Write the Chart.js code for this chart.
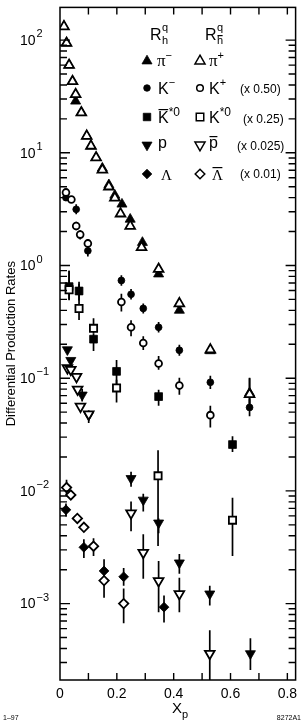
<!DOCTYPE html>
<html>
<head>
<meta charset="utf-8">
<script src="https://cdn.jsdelivr.net/npm/chart.js@4.4.1/dist/chart.umd.min.js"></script>
<style>
  html, body { margin: 0; padding: 0; background: #fff; }
  canvas { display: block; }
</style>
</head>
<body>
<canvas id="rates" width="303" height="723"></canvas>
<script>
/* Differential production rates vs x_p, quark (R_h^q) and antiquark (R_hbar^q) jets */

// pi- (solid) / pi+ (open)
const piMinusX = [0.014, 0.023, 0.032, 0.044, 0.055, 0.075, 0.094, 0.109, 0.127, 0.149, 0.172, 0.193, 0.218, 0.247, 0.290, 0.347, 0.420, 0.529, 0.667];
const piMinusY = [132, 94, 60, 43, 28.7, 22.7, 14.1, 11.5, 9.06, 7.3, 5.2, 4.2, 3.5, 2.57, 1.6, 0.84, 0.40, 0.175, 0.074];
const piMinusLo = [null, null, null, null, null, null, null, null, null, null, null, null, null, null, null, null, null, null, 0.055];
const piMinusHi = [null, null, null, null, null, null, null, null, null, null, null, null, null, null, null, null, null, null, 0.10];
const piPlusX = [0.014, 0.023, 0.032, 0.044, 0.055, 0.075, 0.094, 0.109, 0.127, 0.149, 0.172, 0.193, 0.213, 0.247, 0.287, 0.347, 0.420, 0.529, 0.667];
const piPlusY = [132, 94, 60, 43, 33, 22.7, 14.1, 11.5, 9.06, 7.06, 5.0, 3.98, 2.88, 2.24, 1.45, 0.93, 0.46, 0.179, 0.072];
const piPlusLo = [null, null, null, null, null, null, null, null, null, null, null, null, null, null, null, null, null, null, 0.0527];
const piPlusHi = [null, null, null, null, null, null, null, null, null, null, null, null, null, null, null, null, null, null, 0.101];

// K- (solid) / K+ (open, x 0.50)
const kMinusX = [0.021, 0.057, 0.098, 0.216, 0.250, 0.293, 0.347, 0.420, 0.529, 0.667];
const kMinusY = [4.0, 3.15, 1.35, 0.736, 0.555, 0.416, 0.283, 0.177, 0.092, 0.055];
const kMinusLo = [null, 2.85, 1.2, 0.66, 0.50, 0.375, 0.255, 0.158, 0.080, 0.046];
const kMinusHi = [null, 3.5, 1.5, 0.82, 0.62, 0.46, 0.315, 0.198, 0.105, 0.065];
const kPlusX = [0.021, 0.040, 0.057, 0.071, 0.098, 0.216, 0.250, 0.293, 0.347, 0.420, 0.529];
const kPlusY = [4.45, 3.85, 2.24, 1.88, 1.57, 0.475, 0.283, 0.205, 0.135, 0.086, 0.047];
const kPlusLo = [null, null, 2.05, 1.7, 1.42, 0.391, 0.236, 0.178, 0.1186, 0.0714, 0.0366];
const kPlusHi = [null, null, 2.45, 2.05, 1.72, 0.562, 0.326, 0.236, 0.157, 0.101, 0.0571];

// K*0bar (solid) / K*0 (open, x 0.25)
const kstBarX = [0.032, 0.067, 0.118, 0.199, 0.347, 0.607];
const kstBarY = [0.65, 0.594, 0.222, 0.115, 0.0687, 0.0258];
const kstBarLo = [0.50, 0.489, 0.174, 0.0875, 0.0571, 0.0221];
const kstBarHi = [0.90, 0.718, 0.251, 0.145, 0.079, 0.0305];
const kstX = [0.032, 0.067, 0.118, 0.199, 0.345, 0.607];
const kstY = [0.61, 0.416, 0.277, 0.082, 0.0136, 0.0055];
const kstLo = [0.492, 0.328, 0.251, 0.0608, 0.00324, 0.00264];
const kstHi = [0.90, 0.689, 0.34, 0.0968, 0.023, 0.0087];

// p (solid) / pbar (open, x 0.025)
const protonX = [0.026, 0.038, 0.058, 0.078, 0.101, 0.250, 0.293, 0.347, 0.420, 0.527, 0.670];
const protonY = [0.179, 0.144, 0.103, 0.071, 0.047, 0.0129, 0.0083, 0.0052, 0.0023, 0.00122, 0.00036];
const protonLo = [null, null, null, 0.062, 0.040, 0.01089, 0.00656, 0.0042, 0.00184, 0.00096, 0.000258];
const protonHi = [null, null, null, 0.080, 0.052, 0.01476, 0.00944, 0.0057, 0.00275, 0.00144, 0.000492];
const pbarX = [0.026, 0.038, 0.058, 0.062, 0.072, 0.101, 0.250, 0.293, 0.347, 0.420, 0.527];
const pbarY = [0.123, 0.119, 0.103, 0.0796, 0.0561, 0.048, 0.00635, 0.00283, 0.00159, 0.00122, 0.00036];
const pbarLo = [null, null, null, null, null, null, 0.00438, 0.00166, 0.00084, 0.00084, 0.0002];
const pbarHi = [null, null, null, null, null, null, 0.00804, 0.00412, 0.00239, 0.0017, 0.00058];

// Lambda (solid) / Lambdabar (open, x 0.01)
const lamX = [0.021, 0.084, 0.155, 0.224, 0.366];
const lamY = [0.0068, 0.00316, 0.00195, 0.00173, 0.00093];
const lamLo = [0.00593, 0.00254, 0.0015, 0.00144, 0.00068];
const lamHi = [0.00773, 0.00373, 0.00248, 0.00207, 0.00118];
const lamBarX = [0.023, 0.038, 0.061, 0.084, 0.118, 0.155, 0.224];
const lamBarY = [0.0107, 0.0092, 0.0057, 0.00475, 0.00323, 0.0016, 0.001];
const lamBarLo = [0.00927, null, null, null, 0.00264, 0.00113, 0.00067];
const lamBarHi = [0.01253, null, null, null, 0.0038, 0.00187, 0.00136];

// axes
const xTickLabels = ['0', '0.2', '0.4', '0.6', '0.8'];
const xTickValues = [0, 0.2, 0.4, 0.6, 0.8];
const yDecades = [-3, -2, -1, 0, 1, 2];

const SANS = '"Liberation Sans", Arial, sans-serif';
const SERIF = '"Liberation Serif", "DejaVu Serif", serif';
const INK = '#000';
const OPEN_LW = 1.8;

function series(xs, ys, lo, hi, style, filled, radius, rotation, order) {
  return {
    data: xs.map((x, i) => ({ x, y: ys[i], lo: lo[i], hi: hi[i] })),
    showLine: false,
    pointStyle: style,
    pointRadius: radius,
    pointRotation: rotation || 0,
    pointBackgroundColor: filled ? INK : '#fff',
    pointBorderColor: INK,
    pointBorderWidth: filled ? 0.8 : OPEN_LW,
    order,
  };
}

const datasets = [
  series(piMinusX, piMinusY, piMinusLo, piMinusHi, 'triangle', true, 5.8, 0, 2),
  series(piPlusX, piPlusY, piPlusLo, piPlusHi, 'triangle', false, 5.6, 0, 1),
  series(kMinusX, kMinusY, kMinusLo, kMinusHi, 'circle', true, 3.4, 0, 2),
  series(kPlusX, kPlusY, kPlusLo, kPlusHi, 'circle', false, 3.4, 0, 1),
  series(kstBarX, kstBarY, kstBarLo, kstBarHi, 'rect', true, 5.5, 0, 2),
  series(kstX, kstY, kstLo, kstHi, 'rect', false, 5.1, 0, 1),
  series(protonX, protonY, protonLo, protonHi, 'triangle', true, 5.8, 180, 2),
  series(pbarX, pbarY, pbarLo, pbarHi, 'triangle', false, 5.6, 180, 1),
  series(lamX, lamY, lamLo, lamHi, 'rectRot', true, 4.9, 0, 2),
  series(lamBarX, lamBarY, lamBarLo, lamBarHi, 'rectRot', false, 4.7, 0, 1),
];

// vertical error bars, mapped through the chart scales
const errorBars = {
  id: 'errorBars',
  beforeDatasetsDraw(chart) {
    const { ctx, chartArea: a, scales: { x, y } } = chart;
    ctx.save();
    ctx.beginPath();
    ctx.rect(a.left, a.top, a.right - a.left, a.bottom - a.top);
    ctx.clip();
    ctx.strokeStyle = INK;
    ctx.lineWidth = 1.7;
    chart.data.datasets.forEach(ds => {
      ds.data.forEach(p => {
        if (p.lo == null || p.hi == null) return;
        const px = x.getPixelForValue(p.x);
        ctx.beginPath();
        ctx.moveTo(px, y.getPixelForValue(p.lo));
        ctx.lineTo(px, y.getPixelForValue(p.hi));
        ctx.stroke();
      });
    });
    ctx.restore();
  },
};

function marker(ctx, style, filled, x, y, r, rot) {
  ctx.save();
  ctx.translate(x, y);
  if (rot) ctx.rotate(rot * Math.PI / 180);
  ctx.beginPath();
  if (style === 'circle') {
    ctx.arc(0, 0, r, 0, Math.PI * 2);
  } else if (style === 'triangle') {
    for (let k = 0; k < 3; k++) {
      const t = k * 2 * Math.PI / 3;
      ctx[k ? 'lineTo' : 'moveTo'](Math.sin(t) * r, -Math.cos(t) * r);
    }
    ctx.closePath();
  } else if (style === 'rect') {
    const s = r * Math.SQRT1_2;
    ctx.rect(-s, -s, 2 * s, 2 * s);
  } else if (style === 'rectRot') {
    ctx.moveTo(0, -r); ctx.lineTo(r, 0); ctx.lineTo(0, r); ctx.lineTo(-r, 0);
    ctx.closePath();
  }
  ctx.fillStyle = filled ? INK : '#fff';
  ctx.fill();
  ctx.lineWidth = filled ? 0.8 : 1.5;
  ctx.strokeStyle = INK;
  ctx.stroke();
  ctx.restore();
}

// pieces: [text, size, dy, family, overbar]
function rich(ctx, x, y, pieces) {
  let cx = x;
  pieces.forEach(([t, size, dy, fam, bar]) => {
    ctx.font = `${size}px ${fam || SANS}`;
    ctx.fillText(t, cx, y + (dy || 0));
    const w = ctx.measureText(t).width;
    if (bar) {
      ctx.fillRect(cx + 0.5, y + (dy || 0) - bar, w - 1, 1.2);
    }
    cx += w;
  });
}

const decor = {
  id: 'decor',
  afterDraw(chart) {
    const { ctx, chartArea: a, scales: { x, y } } = chart;
    ctx.save();
    ctx.strokeStyle = INK;
    ctx.fillStyle = INK;
    ctx.lineWidth = 1.5;
    ctx.strokeRect(a.left, a.top, a.right - a.left, a.bottom - a.top);

    // x ticks every 0.1, inward on bottom and top
    ctx.lineWidth = 1.4;
    ctx.beginPath();
    for (let v = 1; v <= 8; v++) {
      const px = x.getPixelForValue(v / 10);
      ctx.moveTo(px, a.bottom); ctx.lineTo(px, a.bottom - 7);
      ctx.moveTo(px, a.top); ctx.lineTo(px, a.top + 7);
    }
    // log y ticks, inward on left and right
    for (let d = -4; d <= 2; d++) {
      for (let m = 1; m <= 9; m++) {
        const v = m * Math.pow(10, d);
        if (v < y.min || v > y.max) continue;
        const py = y.getPixelForValue(v);
        const len = m === 1 ? 10 : 7;
        ctx.moveTo(a.left, py); ctx.lineTo(a.left + len, py);
        ctx.moveTo(a.right, py); ctx.lineTo(a.right - len, py);
      }
    }
    ctx.stroke();

    // tick labels
    ctx.textBaseline = 'middle';
    ctx.textAlign = 'center';
    ctx.font = `14px ${SANS}`;
    xTickValues.forEach((v, i) => ctx.fillText(xTickLabels[i], x.getPixelForValue(v), 694));
    ctx.textAlign = 'left';
    yDecades.forEach(d => {
      const py = y.getPixelForValue(Math.pow(10, d));
      ctx.font = `14px ${SANS}`;
      ctx.fillText('10', 20, py + 1);
      const w = ctx.measureText('10').width;
      ctx.font = `11px ${SANS}`;
      ctx.fillText(d < 0 ? '\u2212' + (-d) : String(d), 20 + w + 1, py - 6);
    });

    // axis titles
    ctx.save();
    ctx.translate(11, a.top + (a.bottom - a.top) / 2);
    ctx.rotate(-Math.PI / 2);
    ctx.textAlign = 'center';
    ctx.font = `13px ${SANS}`;
    ctx.fillText('Differential Production Rates', 0, 0);
    ctx.restore();

    ctx.textBaseline = 'alphabetic';
    ctx.textAlign = 'left';
    rich(ctx, 172, 713, [['X', 15], ['p', 11, 5]]);

    ctx.font = `7px ${SANS}`;
    ctx.fillText('1\u201397', 3, 720);
    ctx.textAlign = 'right';
    ctx.fillText('8272A1', 301, 720);
    ctx.textAlign = 'left';

    // legend
    rich(ctx, 150, 40, [['R', 16]]);
    rich(ctx, 162, 31, [['q', 11]]);
    rich(ctx, 162, 44, [['h', 11]]);
    rich(ctx, 205, 40, [['R', 16]]);
    rich(ctx, 217, 31, [['q', 11]]);
    rich(ctx, 217, 44, [['h', 11, 0, SANS, 9]]);

    const rows = [
      { y: 61, s: 'triangle', r: 5.8, rot: 0 },
      { y: 88, s: 'circle', r: 3.3, rot: 0 },
      { y: 117, s: 'rect', r: 5.3, rot: 0 },
      { y: 145, s: 'triangle', r: 5.8, rot: 180 },
      { y: 174, s: 'rectRot', r: 4.8, rot: 0 },
    ];
    rows.forEach(rw => {
      marker(ctx, rw.s, true, 147, rw.y, rw.r, rw.rot);
      marker(ctx, rw.s, false, 200, rw.y, rw.r, rw.rot);
    });

    rich(ctx, 157, 66, [['\u03c0', 17, 0, SERIF], ['\u2212', 11, -7]]);
    rich(ctx, 209, 66, [['\u03c0', 17, 0, SERIF], ['+', 11, -7]]);
    rich(ctx, 158, 94, [['K', 16], ['\u2212', 11, -8]]);
    rich(ctx, 209, 94, [['K', 16], ['+', 11, -8]]);
    rich(ctx, 158, 123, [['K', 16, 0, SANS, 14], ['*0', 12, -7]]);
    rich(ctx, 209, 123, [['K', 16], ['*0', 12, -7]]);
    rich(ctx, 158, 148, [['p', 16]]);
    rich(ctx, 209, 148, [['p', 16, 0, SANS, 12]]);
    rich(ctx, 161, 180, [['\u039b', 15, 0, SERIF]]);
    rich(ctx, 212, 180, [['\u039b', 15, 0, SERIF, 13]]);

    ctx.font = `12px ${SANS}`;
    ctx.fillText('(x 0.50)', 240, 93);
    ctx.fillText('(x 0.25)', 243, 123);
    ctx.fillText('(x 0.025)', 237, 150);
    ctx.fillText('(x 0.01)', 240, 178);

    ctx.restore();
  },
};

new Chart(document.getElementById('rates'), {
  type: 'scatter',
  data: { datasets },
  options: {
    responsive: false,
    animation: false,
    events: [],
    layout: { padding: { left: 60, top: 1, right: 2.5, bottom: 43 } },
    plugins: { legend: { display: false }, tooltip: { enabled: false } },
    scales: {
      x: { type: 'linear', min: 0, max: 0.829, display: false },
      y: { type: 'logarithmic', min: 2.1e-4, max: 195, display: false },
    },
  },
  plugins: [errorBars, decor],
});
</script>
</body>
</html>
